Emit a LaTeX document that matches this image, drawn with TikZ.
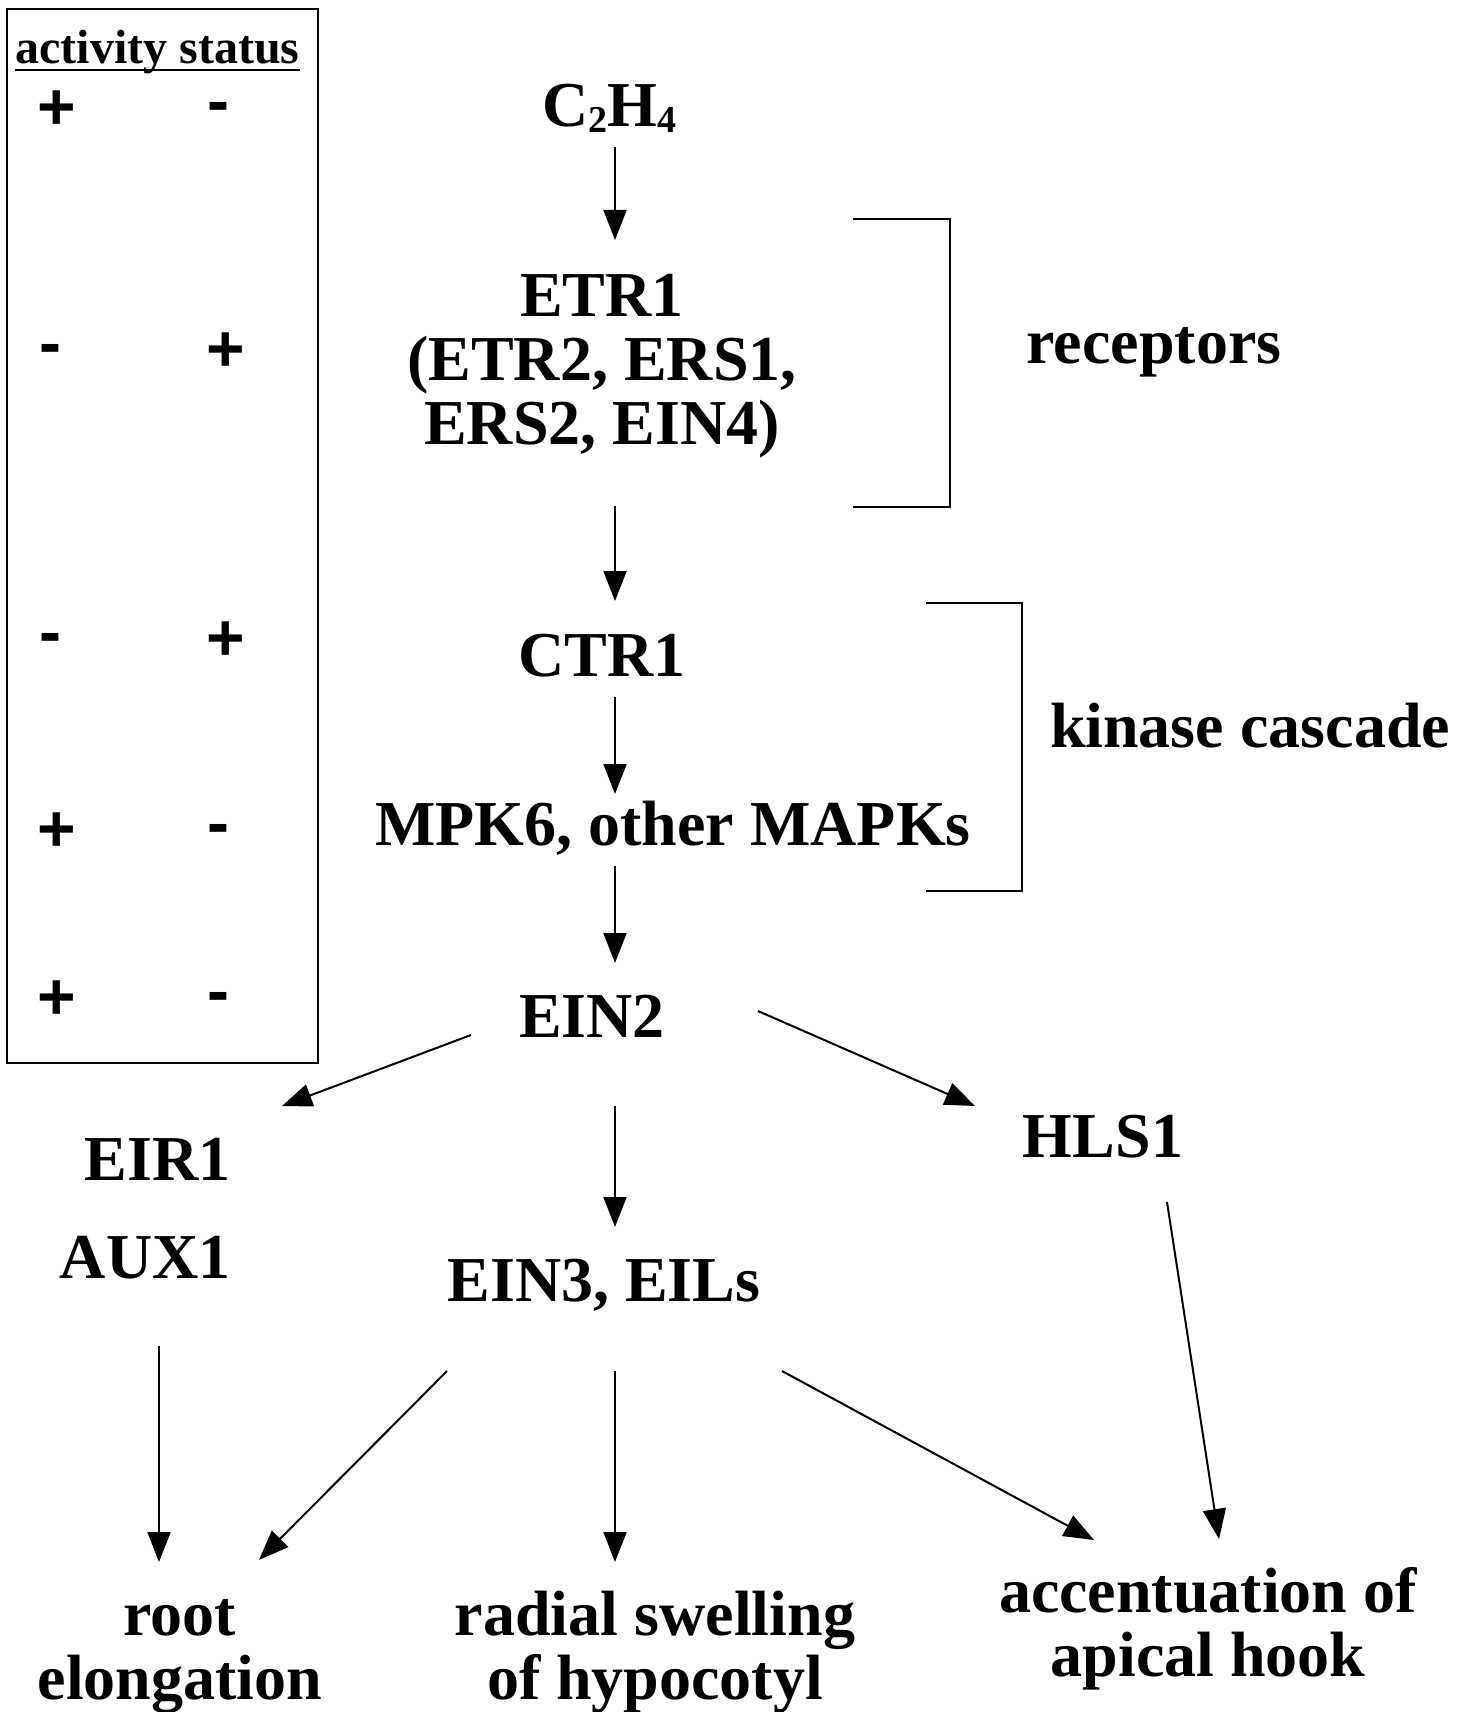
\documentclass[tikz,border=0pt]{standalone}
\usepackage{fontspec}
\setmainfont{Liberation Serif}
\newfontfamily\signfont{Liberation Sans}
\usetikzlibrary{arrows.meta,calc}
% stacked, centred lines whose baseline is that of the first line
\newcommand\mlines[1]{\begin{tabular}[t]{@{}c@{}}#1\end{tabular}}
\newcommand\sub[1]{\raisebox{-0.09em}{\fontsize{19pt}{19pt}\selectfont #1}}
\begin{document}
\begin{tikzpicture}[x=0.5pt,y=-0.5pt,
  lbl/.style={font=\fontsize{32pt}{32pt}\selectfont\bfseries, inner sep=0pt, anchor=base},
  head/.style={font=\fontsize{24pt}{24pt}\selectfont\bfseries, inner sep=0pt, anchor=base},
  plus/.style={font=\fontsize{33pt}{33pt}\selectfont\signfont\bfseries, inner sep=0pt, anchor=base},
  minus/.style={font=\fontsize{33pt}{33pt}\selectfont\signfont\bfseries, inner sep=0pt, anchor=base},
  arr/.style={-{Triangle[length=15pt,width=11.5pt]}, line width=1pt},
  bracket/.style={line width=1pt}]
\useasboundingbox (0,0) rectangle (1472,1712);

% activity status panel
\draw[line width=1.4pt] (7,9) rectangle (318,1063);
\node[head] (act) at (157.5,64) {activity status};
\draw[line width=1.2pt] ($(act.base west)+(0,6)$) -- ($(act.base east)+(0,6)$);
\node[plus]  (s1p) at (57,130)  {+};
\node[minus] (s1m) at (218,124) {-};
\node[minus] (s2m) at (50,365)  {-};
\node[plus]  (s2p) at (226,371) {+};
\node[minus] (s3m) at (50,654)  {-};
\node[plus]  (s3p) at (226,660) {+};
\node[plus]  (s4p) at (57,851)  {+};
\node[minus] (s4m) at (218,845) {-};
\node[plus]  (s5p) at (57,1019) {+};
\node[minus] (s5m) at (218,1013) {-};

% pathway components
\coordinate (spine) at (615,0);
\node[lbl] (c2h4) at (609,127) {C\sub{2}H\sub{4}};
\node[lbl] (etr) at (602,316) {\mlines{ETR1\\(ETR2, ERS1,\\ERS2, EIN4)}};
\node[lbl] (ctr1) at (602,676) {CTR1};
\node[lbl] (mpk) at (673,845) {MPK6, other MAPKs};
\node[lbl] (ein2) at (592,1037) {EIN2};
\node[lbl, anchor=base east] (eir1) at (231,1180) {EIR1};
\node[lbl, anchor=base east] (aux1) at (231,1278) {AUX1};
\node[lbl] (hls1) at (1103,1157) {HLS1};
\node[lbl] (ein3) at (604,1301) {EIN3, EILs};
\node[lbl] (root) at (180,1635) {\mlines{root\\elongation}};
\node[lbl] (radial) at (655,1635) {\mlines{radial swelling\\of hypocotyl}};
\node[lbl] (hook) at (1208,1612) {\mlines{accentuation of\\apical hook}};

% groupings
\node[lbl] (rec) at (1154,363) {receptors};
\node[lbl] (kin) at (1250,747) {kinase cascade};
\draw[bracket] (853,219) -- (950,219) -- (950,507) -- (853,507);
\draw[bracket] (926,603) -- (1022,603) -- (1022,891) -- (926,891);

% signalling arrows
\draw[arr] ($(c2h4.base -| spine)+(0,20)$) -- ($(etr.base -| spine)+(0,-76)$);
\draw[arr] ($(etr.base -| spine)+(0,190)$) -- ($(ctr1.base -| spine)+(0,-75)$);
\draw[arr] ($(ctr1.base -| spine)+(0,21)$) -- ($(mpk.base -| spine)+(0,-51)$);
\draw[arr] ($(mpk.base -| spine)+(0,21)$) -- ($(ein2.base -| spine)+(0,-74)$);
\draw[arr] ($(ein2.base)+(-121,-2)$) -- ($(eir1.base east)+(51,-74)$);
\draw[arr] ($(ein2.base)+(166,-26)$) -- ($(hls1.base)+(-128,-51)$);
\draw[arr] ($(ein2.base -| spine)+(0,69)$) -- ($(ein3.base -| spine)+(0,-74)$);
\draw[arr] ($(aux1.base east)+(-72,68)$) -- ($(root.base)+(-21,-73)$);
\draw[arr] ($(ein3.base)+(-157,70)$) -- ($(root.base)+(79,-75)$);
\draw[arr] ($(ein3.base -| spine)+(0,70)$) -- ($(radial.base -| spine)+(0,-73)$);
\draw[arr] ($(ein3.base)+(178,70)$) -- ($(hook.base)+(-114,-72)$);
\draw[arr] ($(hls1.base)+(64,45)$) -- ($(hook.base)+(11,-73)$);
\end{tikzpicture}
\end{document}
